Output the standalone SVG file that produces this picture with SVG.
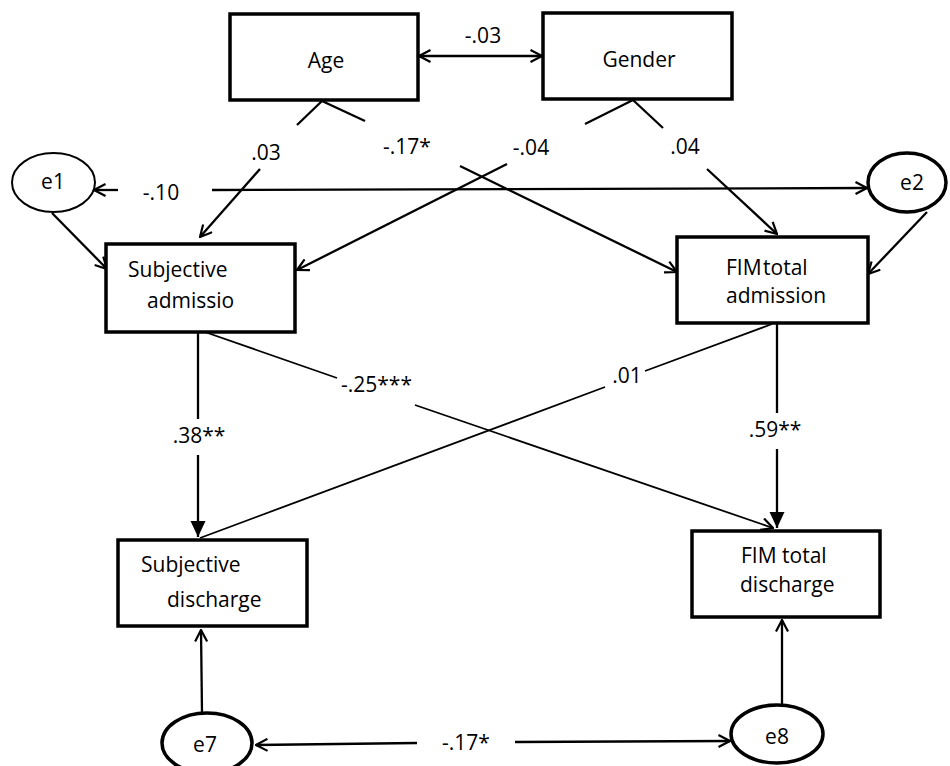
<svg xmlns="http://www.w3.org/2000/svg" width="950" height="766" viewBox="0 0 950 766">
  <style>
    text { font-family: "Open Sans", "Noto Sans", "Liberation Sans", sans-serif; font-size: 21px; fill: #000; }
    .box { fill: #fff; stroke: #000; stroke-width: 3.5; }
    .err { fill: #fff; stroke: #000; stroke-width: 3.5; }
    .err-thin { fill: #fff; stroke: #000; stroke-width: 2; }
    .ln { fill: none; stroke: #000; stroke-width: 2.3; }
    .thin { fill: none; stroke: #000; stroke-width: 1.8; }
    .mid { text-anchor: middle; }
  </style>
  <defs>
    <marker id="open" viewBox="0 0 14 14" refX="13" refY="7" markerWidth="14" markerHeight="14" markerUnits="userSpaceOnUse" orient="auto-start-reverse">
      <path d="M1.5,1 L13,7 L1.5,13" fill="none" stroke="#000" stroke-width="2.2"/>
    </marker>
    <marker id="solid" viewBox="0 0 16 16" refX="16" refY="8" markerWidth="16" markerHeight="16" markerUnits="userSpaceOnUse" orient="auto">
      <path d="M0,0.5 L16,8 L0,15.5 z" fill="#000"/>
    </marker>
  </defs>

  <!-- connectors -->
  <g id="connectors">
    <!-- Age <-> Gender -->
    <line class="ln" x1="419" y1="56" x2="542" y2="56" marker-start="url(#open)" marker-end="url(#open)"/>
    <text class="mid" x="483" y="43">-.03</text>

    <!-- Age -> Subjective admissio -->
    <line class="ln" x1="322" y1="101" x2="297" y2="125"/>
    <line class="ln" x1="260" y1="169" x2="200" y2="237" marker-end="url(#open)"/>
    <text class="mid" x="266" y="160">.03</text>

    <!-- Age -> FIM total admission -->
    <line class="ln" x1="322" y1="101" x2="365" y2="121"/>
    <line class="ln" x1="460" y1="166" x2="677" y2="272" marker-end="url(#open)"/>
    <text class="mid" x="407" y="154">-.17*</text>

    <!-- Gender -> Subjective admissio -->
    <line class="ln" x1="633" y1="100" x2="585" y2="124"/>
    <line class="ln" x1="507" y1="164" x2="297" y2="270" marker-end="url(#open)"/>
    <text class="mid" x="531" y="155">-.04</text>

    <!-- Gender -> FIM total admission -->
    <line class="ln" x1="633" y1="100" x2="663" y2="128"/>
    <line class="ln" x1="707" y1="169" x2="777" y2="234" marker-end="url(#open)"/>
    <text class="mid" x="685" y="154">.04</text>

    <!-- e1 <-> e2 -->
    <line class="ln" x1="118" y1="190" x2="94" y2="190" marker-end="url(#open)"/>
    <line class="ln" x1="212" y1="190" x2="867" y2="188" marker-end="url(#open)"/>
    <text class="mid" x="161" y="200">-.10</text>

    <!-- residuals into admission variables -->
    <line class="ln" x1="52" y1="213" x2="107" y2="269" marker-end="url(#open)"/>
    <line class="ln" x1="927" y1="212" x2="868" y2="274" marker-end="url(#open)"/>

    <!-- Subjective admissio -> Subjective discharge -->
    <line class="ln" x1="198" y1="332" x2="198" y2="419"/>
    <line class="ln" x1="198" y1="455" x2="198" y2="537" marker-end="url(#solid)"/>
    <text class="mid" x="199" y="443">.38**</text>

    <!-- FIM total admission -> FIM total discharge -->
    <line class="ln" x1="777" y1="324" x2="777" y2="413"/>
    <line class="ln" x1="777" y1="449" x2="777" y2="528" marker-end="url(#solid)"/>
    <text class="mid" x="775" y="437">.59**</text>

    <!-- Subjective admissio -> FIM total discharge -->
    <line class="thin" x1="202" y1="331" x2="337" y2="378"/>
    <line class="thin" x1="415" y1="405" x2="773" y2="528" marker-end="url(#open)"/>
    <text x="341" y="392">-.25***</text>

    <!-- FIM total admission -> Subjective discharge -->
    <line class="thin" x1="772" y1="324" x2="645" y2="371"/>
    <line class="thin" x1="605" y1="387" x2="200" y2="538"/>
    <text class="mid" x="627" y="383">.01</text>

    <!-- residuals into discharge variables -->
    <line class="ln" x1="202" y1="713" x2="201" y2="630" marker-end="url(#open)"/>
    <line class="ln" x1="782" y1="704" x2="782" y2="620" marker-end="url(#open)"/>

    <!-- e7 <-> e8 -->
    <line class="ln" x1="417" y1="743" x2="256" y2="745" marker-end="url(#open)"/>
    <line class="ln" x1="515" y1="742" x2="730" y2="741" marker-end="url(#open)"/>
    <text class="mid" x="466" y="750">-.17*</text>
  </g>

  <!-- observed variables -->
  <g id="age">
    <rect class="box" x="230" y="14" width="188" height="86"/>
    <text class="mid" x="326" y="68">Age</text>
  </g>
  <g id="gender">
    <rect class="box" x="543" y="13" width="189" height="86"/>
    <text class="mid" x="639" y="67">Gender</text>
  </g>
  <g id="subjective-admission">
    <rect class="box" x="106" y="244" width="189" height="88"/>
    <text x="128" y="277">Subjective</text>
    <text x="147" y="308">admissio</text>
  </g>
  <g id="fim-admission">
    <rect class="box" x="677" y="237" width="191" height="86"/>
    <text x="726" y="275" word-spacing="-4">FIM total</text>
    <text x="726" y="303">admission</text>
  </g>
  <g id="subjective-discharge">
    <rect class="box" x="118" y="540" width="189" height="86"/>
    <text x="141" y="572">Subjective</text>
    <text x="167" y="607">discharge</text>
  </g>
  <g id="fim-discharge">
    <rect class="box" x="692" y="531" width="188" height="86"/>
    <text x="741" y="563">FIM total</text>
    <text x="740" y="592">discharge</text>
  </g>

  <!-- residual terms -->
  <g id="e1">
    <ellipse class="err-thin" cx="53.5" cy="182.5" rx="41.5" ry="29.5"/>
    <text class="mid" x="53" y="189">e1</text>
  </g>
  <g id="e2">
    <ellipse class="err" cx="907" cy="182.5" rx="39" ry="29.5"/>
    <text class="mid" x="912" y="190">e2</text>
  </g>
  <g id="e7">
    <ellipse class="err" cx="207" cy="743" rx="45" ry="30"/>
    <text class="mid" x="205" y="752">e7</text>
  </g>
  <g id="e8">
    <ellipse class="err" cx="777" cy="734" rx="46" ry="29"/>
    <text class="mid" x="777" y="744">e8</text>
  </g>
</svg>
